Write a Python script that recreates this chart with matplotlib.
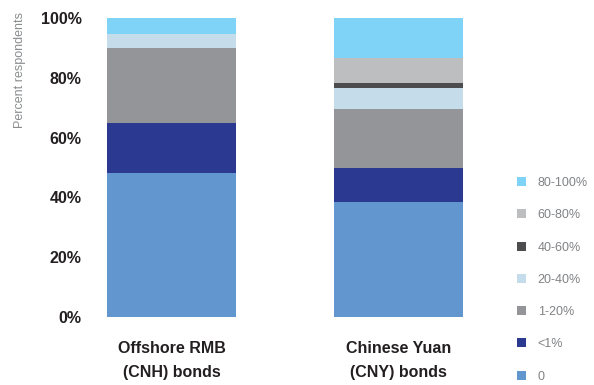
import matplotlib
matplotlib.use("Agg")
import matplotlib.pyplot as plt
import numpy as np

plt.rcParams["font.family"] = ["Liberation Sans", "DejaVu Sans"]

categories = ["Offshore RMB\n(CNH) bonds", "Chinese Yuan\n(CNY) bonds"]
bands = ["0", "<1%", "1-20%", "20-40%", "40-60%", "60-80%", "80-100%"]
# percent of respondents per band, bottom to top
cnh = [48.2, 16.8, 25.0, 4.6, 0.0, 0.0, 5.4]
cny = [38.5, 11.4, 19.7, 7.1, 1.6, 8.3, 13.4]
colors = ["#6196CF", "#2B3990", "#939598", "#C5DCEA", "#4D4D4F", "#BCBEC0", "#7FD3F7"]

fig = plt.figure(figsize=(5.94, 3.85), dpi=100)
ax = fig.add_axes([90 / 594, (385 - 317) / 385, 390 / 594, 299 / 385])

x = np.arange(len(categories))
bottom = np.zeros(len(categories))
handles = []
for i, band in enumerate(bands):
    vals = np.array([cnh[i], cny[i]])
    h = ax.bar(x, vals, bottom=bottom, width=0.57, color=colors[i], label=band)
    handles.append(h)
    bottom += vals

ax.set_xlim(-0.36, 1.36)
ax.set_ylim(0, 100)
ax.set_yticks(range(0, 101, 20))
ax.set_yticklabels([f"{v}%" for v in range(0, 101, 20)], fontsize=11.5,
                   fontweight="bold", color="#231F20")
ax.set_xticks(x)
ax.set_xticklabels(categories, fontsize=11.5, fontweight="bold", color="#231F20",
                   linespacing=1.75)
ax.tick_params(length=0)
ax.tick_params(axis="y", pad=6)
ax.tick_params(axis="x", pad=17)
for s in ax.spines.values():
    s.set_visible(False)

fig.text(20 / 594, 1 - 12 / 385, "Percent respondents", rotation=90, ha="center",
         va="top", fontsize=9, color="#8A8C8E")

fig.legend(handles[::-1], bands[::-1], loc="upper left",
           bbox_to_anchor=(517 / 594, 1 - 177 / 385), frameon=False,
           handlelength=0.75, handleheight=0.75, handletextpad=0.9,
           labelspacing=1.62, fontsize=9, labelcolor="#808285",
           borderaxespad=0, borderpad=0)

fig.savefig("out.png", dpi=100)
